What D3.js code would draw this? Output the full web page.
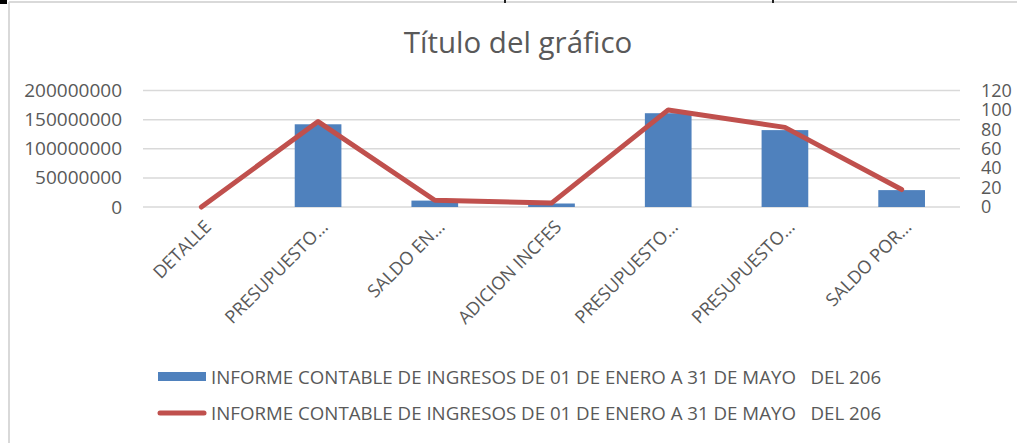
<!DOCTYPE html>
<html>
<head>
<meta charset="utf-8">
<script src="https://cdn.jsdelivr.net/npm/d3@7"></script>
<style>
  body { margin: 0; background: #fff; }
  text { font-family: "Open Sans", sans-serif; fill: #595959; }
</style>
</head>
<body>
<svg id="vis" width="1017" height="443"></svg>
<script>
var categories = ["DETALLE", "PRESUPUESTO…", "SALDO EN…", "ADICION INCFES", "PRESUPUESTO…", "PRESUPUESTO…", "SALDO POR…"];
var barValues = [0, 142000000, 11000000, 6000000, 161000000, 132000000, 29000000];
var lineValues = [0, 88, 7, 4, 100, 82, 18];
var leftTicks = [0, 50000000, 100000000, 150000000, 200000000];
var rightTicks = [0, 20, 40, 60, 80, 100, 120];
var seriesName = "INFORME CONTABLE DE INGRESOS DE 01 DE ENERO A 31 DE MAYO   DEL 206";
var title = "Título del gráfico";

var svg = d3.select("#vis");
var width = 1017, height = 443;
var margin = { top: 90.5, right: 57, bottom: 236, left: 143 };

// frame of the chart area
svg.append("line")
  .attr("x1", 9).attr("y1", 2).attr("x2", width).attr("y2", 2)
  .style("stroke", "#d9d9d9").style("stroke-width", 2);
svg.append("line")
  .attr("x1", 9).attr("y1", 2).attr("x2", 9).attr("y2", height)
  .style("stroke", "#d9d9d9").style("stroke-width", 2);
svg.append("rect").attr("x", 0).attr("y", 0).attr("width", 7).attr("height", 4).style("fill", "#000");
[504, 772].forEach(function(x) {
  svg.append("rect").attr("x", x).attr("y", 0).attr("width", 2).attr("height", 3).style("fill", "#222");
});

var xScale = d3.scaleBand()
  .domain(d3.range(categories.length))
  .range([margin.left, width - margin.right])
  .paddingInner(0.6)
  .paddingOuter(0.3);

var yLeft = d3.scaleLinear().domain([0, 200000000]).range([height - margin.bottom, margin.top]);
var yRight = d3.scaleLinear().domain([0, 120]).range([height - margin.bottom, margin.top]);

svg.append("text")
  .text(title)
  .attr("x", 518)
  .attr("y", 53)
  .attr("text-anchor", "middle")
  .style("font-size", "29.5px");

// gridlines
svg.append("g")
  .selectAll("line")
  .data(leftTicks)
  .enter()
  .append("line")
  .attr("x1", margin.left)
  .attr("x2", width - margin.right)
  .attr("y1", d => yLeft(d))
  .attr("y2", d => yLeft(d))
  .style("stroke", "#d9d9d9")
  .style("stroke-width", "1.5px");

var leftAxis = svg.append("g")
  .attr("transform", "translate(" + (margin.left - 21) + ",0)")
  .call(d3.axisLeft(yLeft).tickValues(leftTicks).tickFormat(d3.format("d")).tickSize(0).tickPadding(0));
leftAxis.select(".domain").remove();
leftAxis.selectAll("text").style("font-size", "19px").style("font-family", "Open Sans").attr("fill", "#595959");

var rightAxis = svg.append("g")
  .attr("transform", "translate(" + (width - margin.right + 21) + ",0)")
  .call(d3.axisRight(yRight).tickValues(rightTicks).tickSize(0).tickPadding(0));
rightAxis.select(".domain").remove();
rightAxis.selectAll("text").style("font-size", "18px").style("font-family", "Open Sans").attr("fill", "#595959");

// bars
svg.append("g")
  .selectAll("rect")
  .data(barValues)
  .enter()
  .append("rect")
  .attr("x", (d, i) => xScale(i))
  .attr("y", d => yLeft(d))
  .attr("width", xScale.bandwidth())
  .attr("height", d => yLeft(0) - yLeft(d))
  .style("fill", "#4f81bd");

// line
var line = d3.line()
  .x((d, i) => xScale(i) + xScale.bandwidth() / 2)
  .y(d => yRight(d));

svg.append("path")
  .datum(lineValues)
  .attr("d", line)
  .style("fill", "none")
  .style("stroke", "#c0504d")
  .style("stroke-width", "5px")
  .style("stroke-linejoin", "round")
  .style("stroke-linecap", "round");

// category labels
svg.append("g")
  .selectAll("text")
  .data(categories)
  .enter()
  .append("text")
  .text(d => d)
  .attr("text-anchor", "end")
  .attr("transform", (d, i) => "translate(" + (xScale(i) + xScale.bandwidth() / 2 + 11) + ",228) rotate(-45)")
  .style("font-size", "18px");

// legend
var legend = svg.append("g");
legend.append("rect")
  .attr("x", 158).attr("y", 372).attr("width", 48).attr("height", 9)
  .style("fill", "#4f81bd");
legend.append("line")
  .attr("x1", 160).attr("y1", 413).attr("x2", 204).attr("y2", 413)
  .style("stroke", "#c0504d").style("stroke-width", "5px").style("stroke-linecap", "round");
[377, 413].forEach(function(y) {
  legend.append("text")
    .text(seriesName)
    .attr("x", 211)
    .attr("y", y)
    .attr("dy", "0.35em")
    .style("white-space", "pre")
    .style("font-size", "18.7px");
});
</script>
</body>
</html>
